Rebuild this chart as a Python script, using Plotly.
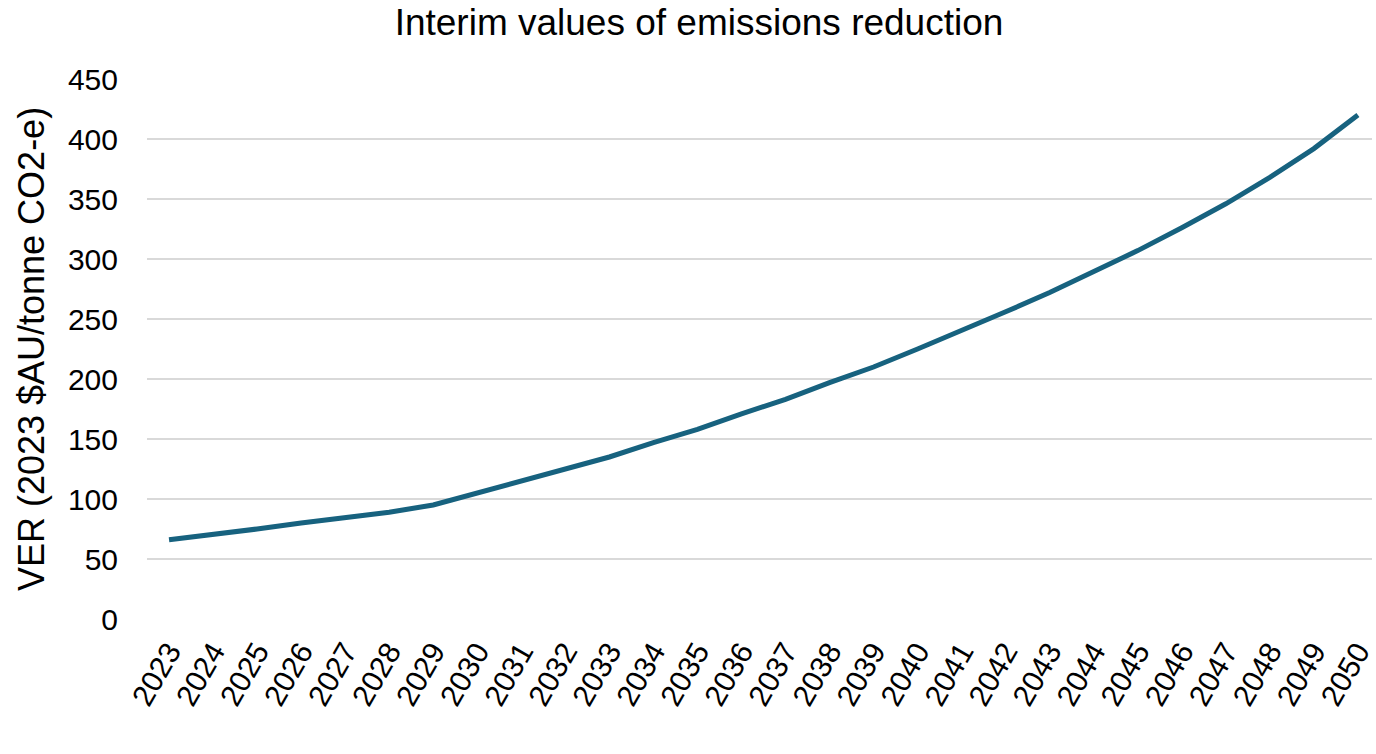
import plotly.graph_objects as go

years = list(range(2023, 2051))
ver = [66, 70, 75, 80, 84, 89, 95, 105, 114, 124, 135, 147, 158, 171, 183, 197,
       210, 225, 240, 256, 272, 289, 307, 326, 346, 368, 392, 420]
y_ticks = [0, 50, 100, 150, 200, 250, 300, 350, 400, 450]

fig = go.Figure()
fig.add_trace(go.Scatter(x=years, y=ver, mode="lines",
                         line=dict(color="#17627f", width=5),
                         showlegend=False))

fig.update_layout(
    width=1376, height=754,
    paper_bgcolor="white", plot_bgcolor="white",
    margin=dict(l=147, r=0, t=79, b=135),
    font=dict(family="Liberation Sans, Arial, sans-serif", color="black"),
    title=dict(text="Interim values of emissions reduction", x=0.508, xanchor="center",
               y=0.971, yanchor="middle", yref="container",
               font=dict(size=37, color="black")),
    xaxis=dict(range=[2022.5, 2050.32], tickmode="array", tickvals=years,
               ticktext=[str(y) for y in years], tickangle=-60,
               tickfont=dict(size=30), showgrid=False, zeroline=False,
               showline=False, ticks="", ticklabelstandoff=8,
               ticklabeloverflow="allow"),
    yaxis=dict(range=[0, 450], tickmode="array", tickvals=y_ticks,
               tickfont=dict(size=30), showgrid=True, gridcolor="#d9d9d9",
               gridwidth=1.5, zeroline=False, showline=False, ticks="",
               ticklabelstandoff=28,
               title=dict(text="VER (2023 $AU/tonne CO2-e)", font=dict(size=36),
                          standoff=12)),
)

fig.write_html("out.html", config={"displayModeBar": False},
               post_script="document.body.style.margin='0';document.body.style.overflow='hidden';")
